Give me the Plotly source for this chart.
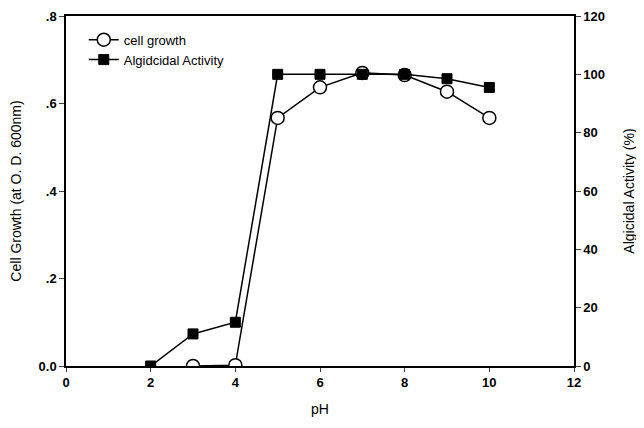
import plotly.graph_objects as go

ph_growth = [3, 4, 5, 6, 7, 8, 9, 10]
cell_growth = [0.0, 0.002, 0.567, 0.637, 0.670, 0.665, 0.627, 0.567]

ph_activity = [2, 3, 4, 5, 6, 7, 8, 9, 10]
algicidal = [0, 11, 15, 100, 100, 100, 100, 98.5, 95.5]

x_ticks = [0, 2, 4, 6, 8, 10, 12]
y_ticks = [0, 0.2, 0.4, 0.6, 0.8]
y_labels = ["0.0", ".2", ".4", ".6", ".8"]
y2_ticks = [0, 20, 40, 60, 80, 100, 120]

font = "Liberation Sans, Arial, sans-serif"
tickfont = dict(size=13, family="Liberation Sans, Arial, sans-serif", color="black", weight="bold")

fig = go.Figure()
fig.add_trace(go.Scatter(
    x=ph_growth, y=cell_growth, name="cell growth", mode="lines+markers",
    line=dict(color="black", width=1.5),
    marker=dict(symbol="circle", size=13, color="white", line=dict(color="black", width=1.5)),
))
fig.add_trace(go.Scatter(
    x=ph_activity, y=algicidal, name="Algidcidal Activity", mode="lines+markers",
    yaxis="y2",
    line=dict(color="black", width=1.5),
    marker=dict(symbol="square", size=10, color="black", line=dict(color="black", width=1)),
))

fig.update_layout(
    width=636, height=420,
    margin=dict(l=58, r=70, t=8, b=62, autoexpand=False),
    paper_bgcolor="white", plot_bgcolor="white",
    font=dict(family=font, size=13, color="black"),
    showlegend=True,
    legend=dict(x=0.035, y=0.975, xanchor="left", yanchor="top",
                bgcolor="rgba(0,0,0,0)", font=dict(size=13), tracegroupgap=0),
    xaxis=dict(range=[0, 12], tickvals=x_ticks, ticks="outside", ticklen=4,
               showline=True, linecolor="black", linewidth=1.5, mirror=True,
               showgrid=False, zeroline=False, automargin=False,
               tickfont=tickfont,
               title=dict(text="pH", font=dict(size=14), standoff=15)),
    yaxis=dict(range=[0, 0.8], tickvals=y_ticks, ticktext=y_labels, ticks="outside", ticklen=5,
               showline=True, linecolor="black", linewidth=1.5,
               showgrid=False, zeroline=False, automargin=False,
               tickfont=tickfont,
               title=dict(text="Cell Growth (at O. D. 600nm)", font=dict(size=14), standoff=20)),
    yaxis2=dict(range=[0, 120], tickvals=y2_ticks, overlaying="y", side="right",
                ticks="outside", ticklen=5,
                showline=True, linecolor="black", linewidth=1.5,
                showgrid=False, zeroline=False, automargin=False,
                tickfont=tickfont,
                title=dict(text="Algicidal Activity (%)", font=dict(size=14), standoff=20)),
)

fig.write_html("out.html")
